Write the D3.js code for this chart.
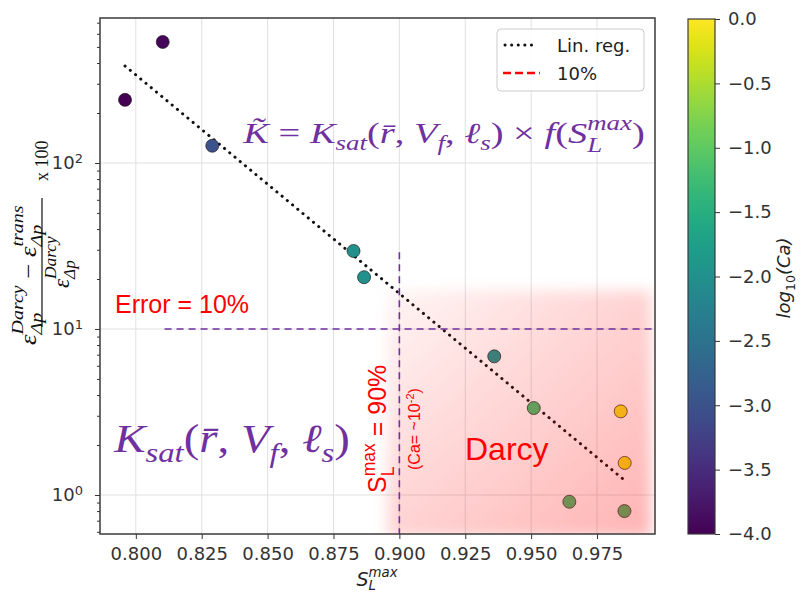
<!DOCTYPE html>
<html>
<head>
<meta charset="utf-8">
<script src="https://cdn.jsdelivr.net/npm/d3@7"></script>
<style>
  body { margin: 0; background: #fff; }
  svg { display: block; }
</style>
</head>
<body>
<svg id="chart" width="800" height="594"></svg>
<script>
// values
const satMax   = [0.7959, 0.8102, 0.8290, 0.8826, 0.8866, 0.9360, 0.9510, 0.9840, 0.9855, 0.9645, 0.9854];
const errorPct = [240, 536, 127, 29.5, 20.5, 6.84, 3.34, 3.19, 1.56, 0.91, 0.80];
const logCa    = [-4.0, -3.95, -3.0, -2.0, -2.0, -2.0, -1.2, -0.1, -0.1, -1.2, -1.2];

// end points of the linear regression (straight in log space)
const regX = [0.7959, 0.9848];
const regY = [384, 1.25];

const xTicks = [0.800, 0.825, 0.850, 0.875, 0.900, 0.925, 0.950, 0.975];
const yTicks = [1, 10, 100];
const cbTicks = [-4.0, -3.5, -3.0, -2.5, -2.0, -1.5, -1.0, -0.5, 0.0];

// threshold annotations
const errorLevel = 10;      // %
const errorLineFrom = 0.8109;
const satLevel = 0.900;
const satLineTop = 29;

const svg = d3.select("#chart");
const sans = "DejaVu Sans, sans-serif";
const serif = "Liberation Serif, DejaVu Serif, serif";
const arial = "Liberation Sans, Arial, sans-serif";
const purple = "#7030a0";
const red = "#ff0000";

const x = d3.scaleLinear().domain([0.7864, 0.997]).range([100, 655]);
const y = d3.scaleLog().domain([0.582, 747]).range([534, 18]);
const color = d3.scaleSequential(d3.interpolateViridis).domain([-4, 0]);

const defs = svg.append("defs");
defs.append("clipPath").attr("id", "plotclip")
  .append("rect").attr("x", 100).attr("y", 18).attr("width", 555).attr("height", 516);

// little helper for math-like text with sub/superscripts
function addMath(g, parts, fs, family, opt) {
  opt = Object.assign({ sc: 0.7, up: 0.45, down: 0.3 }, opt || {});
  const t = g.append("text").attr("font-family", family).attr("font-size", fs);
  let cur = 0, pendingDx = 0;
  function span(str, off, size, italic) {
    const s = t.append("tspan").attr("dy", off - cur).attr("font-size", size)
      .attr("font-style", italic ? "italic" : "normal").text(str);
    if (pendingDx) { s.attr("dx", pendingDx); pendingDx = 0; }
    cur = off;
    return s;
  }
  const ss = opt.sc * fs;
  parts.forEach(([kind, a, b]) => {
    if (kind === "i") span(a, 0, fs, true);
    else if (kind === "r") span(a, 0, fs, false);
    else if (kind === "sub") span(a, 0.25 * fs, ss, true);
    else if (kind === "subr") span(a, 0.25 * fs, ss, false);
    else if (kind === "sup") span(a, -0.42 * fs, ss, true);
    else if (kind === "ss") {
      const s1 = span(a, -opt.up * fs, ss, true);
      const w1 = s1.node().getComputedTextLength();
      pendingDx = -w1;
      const s2 = span(b, opt.down * fs, ss, true);
      const w2 = s2.node().getComputedTextLength();
      pendingDx = Math.max(0, w1 - w2);
    }
  });
  return t;
}

// stretch a group along its text direction so it spans a given width
// (anchored at its left edge, or centred when center is true)
function fitWidth(g, tx, ty, width, center) {
  const bb = g.node().getBBox();
  const shift = center ? -(bb.x + bb.width / 2) : -bb.x;
  g.attr("transform", `translate(${tx},${ty}) scale(${width / bb.width},1) translate(${shift},0)`);
}

// grid
const grid = svg.append("g").attr("stroke", "#e0e0e0").attr("stroke-width", 1);
grid.selectAll(".gx").data(xTicks).join("line")
  .attr("x1", d => x(d)).attr("x2", d => x(d)).attr("y1", 18).attr("y2", 534);
grid.selectAll(".gy").data(yTicks).join("line")
  .attr("x1", 100).attr("x2", 655).attr("y1", d => y(d)).attr("y2", d => y(d));

const plot = svg.append("g").attr("clip-path", "url(#plotclip)");

// regression line
plot.append("path")
  .datum(d3.zip(regX, regY))
  .attr("d", d3.line().x(d => x(d[0])).y(d => y(d[1])))
  .attr("fill", "none").attr("stroke", "#111").attr("stroke-width", 3)
  .attr("stroke-linecap", "round").attr("stroke-dasharray", "0.1 6.7");

// points
plot.selectAll("circle.pt").data(satMax).join("circle")
  .attr("class", "pt")
  .attr("cx", d => x(d))
  .attr("cy", (d, i) => y(errorPct[i]))
  .attr("r", 6.5)
  .attr("fill", (d, i) => color(logCa[i]))
  .attr("stroke", "rgba(30,30,30,0.7)").attr("stroke-width", 1);

// Darcy region (soft red overlay)
const grad = defs.append("linearGradient").attr("id", "pinkgrad")
  .attr("x1", 0).attr("y1", 0).attr("x2", 1).attr("y2", 1);
grad.append("stop").attr("offset", "0%").attr("stop-color", "#ff0000").attr("stop-opacity", 0.04);
grad.append("stop").attr("offset", "45%").attr("stop-color", "#ff0000").attr("stop-opacity", 0.16);
grad.append("stop").attr("offset", "100%").attr("stop-color", "#ff0000").attr("stop-opacity", 0.30);
defs.append("filter").attr("id", "soft").attr("x", "-20%").attr("y", "-20%").attr("width", "140%").attr("height", "140%")
  .append("feGaussianBlur").attr("stdDeviation", 7);
plot.append("rect")
  .attr("x", x(0.8955)).attr("y", y(17))
  .attr("width", x(0.9955) - x(0.8955)).attr("height", y(0.56) - y(17))
  .attr("fill", "url(#pinkgrad)").attr("filter", "url(#soft)");

// threshold lines
svg.append("line")
  .attr("x1", x(errorLineFrom)).attr("x2", 655).attr("y1", y(errorLevel)).attr("y2", y(errorLevel))
  .attr("stroke", purple).attr("stroke-width", 1.6).attr("stroke-dasharray", "7 5");
svg.append("line")
  .attr("x1", x(satLevel)).attr("x2", x(satLevel)).attr("y1", y(satLineTop)).attr("y2", 534)
  .attr("stroke", purple).attr("stroke-width", 1.6).attr("stroke-dasharray", "7 5");

// axes
svg.append("g").attr("transform", "translate(0,534)")
  .call(d3.axisBottom(x).tickValues(xTicks).tickFormat(d3.format(".3f")).tickSize(5).tickPadding(8));
const yMinor = [];
[0.1, 1, 10, 100].forEach(dec => { for (let k = 2; k <= 9; k++) { const v = dec * k; if (v > 0.582 && v < 747) yMinor.push(v); } });
svg.append("g").attr("transform", "translate(100,0)")
  .call(d3.axisLeft(y).tickValues(yMinor).tickFormat("").tickSize(3))
  .call(g => g.select(".domain").remove());
const yAxis = svg.append("g").attr("transform", "translate(100,0)")
  .call(d3.axisLeft(y).tickValues(yTicks).tickSize(5).tickPadding(12));
yAxis.selectAll(".tick text").each(function(d) {
  const t = d3.select(this).text("");
  t.append("tspan").text("10");
  t.append("tspan").attr("dy", "-0.5em").attr("font-size", 13).text(Math.round(Math.log10(d)));
});
svg.selectAll(".tick text").attr("font-family", sans).attr("font-size", 18).attr("fill", "#333");
svg.selectAll(".tick line").attr("stroke", "#333");
svg.selectAll(".domain").attr("stroke", "none");

// frame
svg.append("rect").attr("x", 100).attr("y", 18).attr("width", 555).attr("height", 516)
  .attr("fill", "none").attr("stroke", "#3a3a3a").attr("stroke-width", 1.5);

// legend
const leg = svg.append("g");
leg.append("rect").attr("x", 497).attr("y", 29).attr("width", 147).attr("height", 62).attr("rx", 4)
  .attr("fill", "rgba(255,255,255,0.85)").attr("stroke", "#cccccc");
leg.append("line").attr("x1", 505).attr("x2", 537).attr("y1", 45).attr("y2", 45)
  .attr("stroke", "#111").attr("stroke-width", 3).attr("stroke-linecap", "round").attr("stroke-dasharray", "0.1 6.5");
leg.append("line").attr("x1", 503).attr("x2", 540).attr("y1", 73).attr("y2", 73)
  .attr("stroke", red).attr("stroke-width", 2.5).attr("stroke-dasharray", "8 4");
leg.append("text").attr("x", 557).attr("y", 52).text("Lin. reg.");
leg.append("text").attr("x", 557).attr("y", 80).text("10%");
leg.selectAll("text").attr("font-family", sans).attr("font-size", 18).attr("fill", "#222");

// colour bar
const cb = d3.scaleLinear().domain([-4, 0]).range([534, 19]);
const cbGrad = defs.append("linearGradient").attr("id", "viridis")
  .attr("x1", 0).attr("y1", 1).attr("x2", 0).attr("y2", 0);
d3.range(0, 1.0001, 0.05).forEach(t => {
  cbGrad.append("stop").attr("offset", (t * 100) + "%").attr("stop-color", d3.interpolateViridis(t));
});
svg.append("rect").attr("x", 688).attr("y", 19).attr("width", 27).attr("height", 515)
  .attr("fill", "url(#viridis)").attr("stroke", "#3a3a3a").attr("stroke-width", 1.2);
const cbAxis = svg.append("g").attr("transform", "translate(715,0)")
  .call(d3.axisRight(cb).tickValues(cbTicks).tickFormat(d3.format(".1f")).tickSize(5).tickPadding(8));
cbAxis.select(".domain").remove();
cbAxis.selectAll(".tick text").attr("font-family", sans).attr("font-size", 18).attr("fill", "#333");
cbAxis.selectAll(".tick line").attr("stroke", "#333");

const cbl = svg.append("g").attr("transform", "translate(790,278) rotate(-90)");
addMath(cbl, [["i", "log"], ["subr", "10"], ["i", "(Ca)"]], 18, sans)
  .attr("text-anchor", "middle").attr("fill", "#222");

// x label
const xl = svg.append("g").attr("transform", "translate(377,586)");
addMath(xl, [["i", "S"], ["ss", "max", "L"]], 19, sans, { down: 0.22 })
  .attr("text-anchor", "middle").attr("fill", "#222");

// y label (rotated fraction)
const fracOpt = { sc: 0.75, up: 0.55, down: 0.28 };
const yl = svg.append("g").attr("transform", "translate(42,262) rotate(-90)").attr("fill", "#111");
yl.append("line").attr("x1", -65).attr("x2", 64).attr("y1", 0).attr("y2", 0).attr("stroke", "#111").attr("stroke-width", 1.2);
const num = yl.append("g");
addMath(num, [["i", "ε"], ["ss", "Darcy", "Δp"], ["r", " − "], ["i", "ε"], ["ss", "trans", "Δp"]], 23, serif, fracOpt);
fitWidth(num, -13, -6, 140, true);
const den = yl.append("g");
addMath(den, [["i", "ε"], ["ss", "Darcy", "Δp"]], 23, serif, fracOpt);
fitWidth(den, 0, 27, 52, true);
yl.append("text").attr("x", 81).attr("y", 6).attr("font-family", serif).attr("font-size", 18).text("x 100");

// purple formulas, stretched to the width they occupy in the figure
function placeFormula(parts, fs, x0, baseline, width) {
  const g = svg.append("g");
  addMath(g, parts, fs, serif).attr("fill", purple);
  fitWidth(g, x0, baseline, width, false);
}
placeFormula([["i", "K\u0303"], ["r", " = "], ["i", "K"], ["sub", "sat"], ["r", "("], ["i", "r\u0304"], ["r", ", "],
  ["i", "V"], ["sub", "f"], ["r", ", "], ["i", "ℓ"], ["sub", "s"], ["r", ") × "], ["i", "f"], ["r", "("],
  ["i", "S"], ["ss", "max", "L"], ["r", ")"]], 29, 242, 143, 403);
placeFormula([["i", "K"], ["sub", "sat"], ["r", "("], ["i", "r\u0304"], ["r", ", "], ["i", "V"], ["sub", "f"],
  ["r", ", "], ["i", "ℓ"], ["sub", "s"], ["r", ")"]], 40, 113, 452, 237);

// red annotations
svg.append("text").attr("x", 115).attr("y", 313).attr("font-family", arial)
  .attr("font-size", 25).attr("fill", red).text("Error = 10%");
svg.append("text").attr("x", 465).attr("y", 460).attr("font-family", arial)
  .attr("font-size", 32).attr("fill", red).text("Darcy");
const s90 = svg.append("g").attr("transform", "translate(386,493) rotate(-90)");
addMath(s90, [["r", "S"], ["ss", "max", "L"], ["r", " = 90%"]], 25, arial)
  .attr("fill", red).selectAll("tspan").attr("font-style", "normal");
const ca = svg.append("g").attr("transform", "translate(420,470) rotate(-90)");
const caT = ca.append("text").attr("font-family", arial).attr("font-size", 16).attr("fill", red);
caT.append("tspan").text("(Ca= ~10");
caT.append("tspan").attr("dy", -6).attr("font-size", 11).text("-2");
caT.append("tspan").attr("dy", 6).text(")");
</script>
</body>
</html>
